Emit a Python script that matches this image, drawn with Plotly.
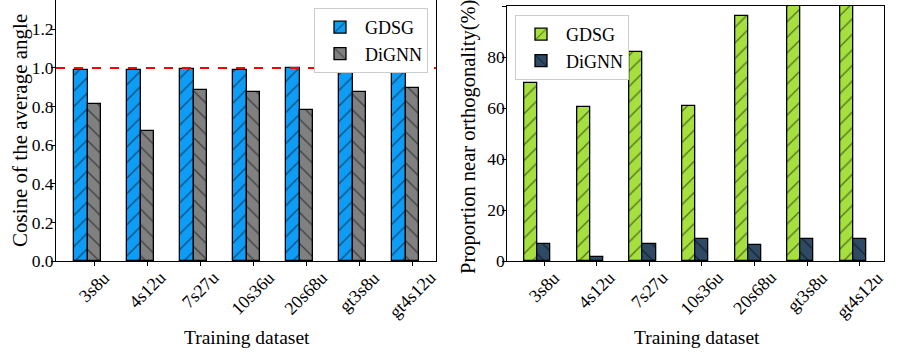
import plotly.graph_objects as go

categories = ["3s8u", "4s12u", "7s27u", "10s36u", "20s68u", "gt3s8u", "gt4s12u"]
cos_gdsg = [0.99, 0.99, 0.995, 0.99, 1.0, 1.0, 1.0]
cos_dignn = [0.812, 0.674, 0.888, 0.877, 0.781, 0.874, 0.895]
orth_gdsg = [69.7, 60.5, 81.8, 60.7, 96.2, 100.0, 100.0]
orth_dignn = [6.7, 1.7, 6.7, 8.5, 6.1, 8.5, 8.5]
series_names = ["GDSG", "DiGNN"]
cos_ticks = [0.0, 0.2, 0.4, 0.6, 0.8, 1.0, 1.2]
orth_ticks = [0, 20, 40, 60, 80, 100]

W = 903
H = 354
FONT = "Liberation Serif, Times New Roman, serif"
bar_w = 0.25
idx = list(range(len(categories)))
BOTTOM = (H - 261) / H

fig = go.Figure()

def add_bars(xs, vals, name, color, shape, xa, ya, legend):
    fig.add_trace(go.Bar(
        x=xs, y=vals, name=name, width=bar_w, xaxis=xa, yaxis=ya,
        legend=legend,
        marker=dict(color=color, line=dict(color="black", width=1.3),
                    pattern=dict(shape=shape, fgcolor="black", bgcolor=color,
                                 size=11, solidity=0.12)),
    ))

add_bars([i - bar_w for i in idx], cos_gdsg, series_names[0], "#0f9cf5", "/", "x", "y", "legend")
add_bars(idx, cos_dignn, series_names[1], "#808080", "\\", "x", "y", "legend")
add_bars([i - bar_w for i in idx], orth_gdsg, series_names[0], "#a6e03e", "/", "x2", "y2", "legend2")
add_bars(idx, orth_dignn, series_names[1], "#2e4a64", "\\", "x2", "y2", "legend2")

axis_common = dict(showline=True, linecolor="black", linewidth=1, mirror=True,
                   ticks="outside", ticklen=4, tickcolor="black", showgrid=False,
                   zeroline=False, tickfont=dict(family=FONT, size=17.5, color="black"))

fig.update_layout(
    width=W, height=H, margin=dict(l=0, r=0, t=0, b=0),
    paper_bgcolor="white", plot_bgcolor="white",
    barmode="overlay", bargap=0,
    font=dict(family=FONT, size=17, color="black"),
    xaxis=dict(domain=[56 / W, 436 / W], range=[-0.72, 6.45], anchor="y",
               tickmode="array", tickvals=idx, showticklabels=False,
               automargin=False, **axis_common),
    yaxis=dict(domain=[BOTTOM, 1.0], range=[0, 1.352], anchor="x",
               tickmode="array", tickvals=cos_ticks, ticklabelstandoff=-6,
               ticktext=[f"{t:.1f}" for t in cos_ticks], automargin=False, **axis_common),
    xaxis2=dict(domain=[507.3 / W, 884 / W], range=[-0.70, 6.46], anchor="y2",
                tickmode="array", tickvals=idx, showticklabels=False,
                automargin=False, **axis_common),
    yaxis2=dict(domain=[BOTTOM, 1 - 6 / H], range=[0, 100], anchor="x2",
                tickmode="array", tickvals=orth_ticks, ticklabelstandoff=-6,
                ticktext=[str(t) for t in orth_ticks], automargin=False, **axis_common),
    legend=dict(x=428 / W, xanchor="right", y=1 - 8 / H, yanchor="top",
                bgcolor="white", bordercolor="#cccccc", borderwidth=1,
                font=dict(family=FONT, size=18), itemwidth=40, tracegroupgap=6),
    legend2=dict(x=515 / W, xanchor="left", y=1 - 15 / H, yanchor="top",
                 bgcolor="white", bordercolor="#cccccc", borderwidth=1,
                 font=dict(family=FONT, size=18), itemwidth=40, tracegroupgap=6),
    showlegend=True,
)

fig.add_shape(type="line", xref="x domain", yref="y", x0=0, x1=1, y0=1.0, y1=1.0,
              line=dict(color="red", width=2, dash="dash"))

# rotated category labels, centred under each tick (matplotlib style)
for xa in ["x", "x2"]:
    for i, c in zip(idx, categories):
        fig.add_annotation(text=c, x=i, y=BOTTOM, xref=xa, yref="paper",
                           xanchor="center", yanchor="top", textangle=-45,
                           yshift=-4, showarrow=False,
                           font=dict(family=FONT, size=18, color="black"))

titles = [
    dict(text="Cosine of the average angle", x=20 / W, y=(H - 131) / H, textangle=-90, size=21),
    dict(text="Proportion near orthogonality(%)", x=468 / W, y=(H - 137) / H, textangle=-90, size=20.5),
    dict(text="Training dataset", x=247 / W, y=(H - 337) / H, textangle=0, size=19.5),
    dict(text="Training dataset", x=697 / W, y=(H - 337) / H, textangle=0, size=19.5),
]
for t in titles:
    fig.add_annotation(text=t["text"], x=t["x"], y=t["y"], xref="paper", yref="paper",
                       xanchor="center", yanchor="middle", textangle=t["textangle"],
                       showarrow=False, font=dict(family=FONT, size=t["size"], color="black"))

fig.write_html("out.html")
